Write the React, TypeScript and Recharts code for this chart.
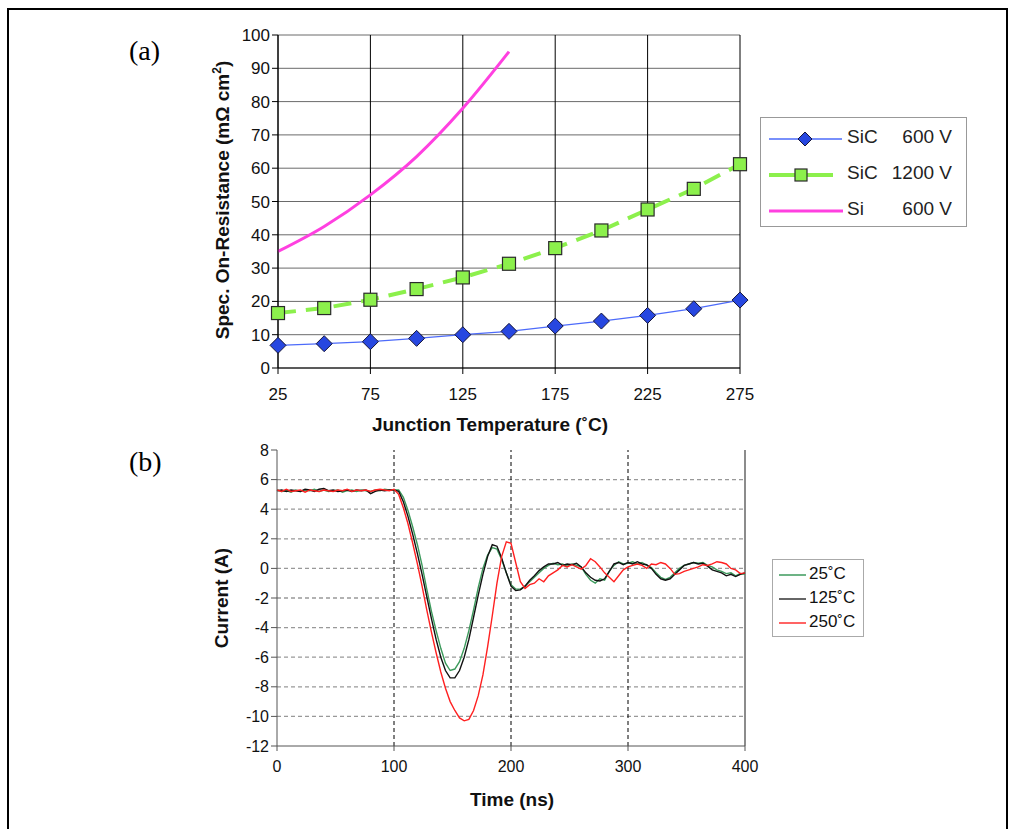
import React from 'react'
import { LineChart, Line, XAxis, YAxis, CartesianGrid, ReferenceLine } from 'recharts'

// (a) specific on-resistance vs junction temperature
const temps = [25, 50, 75, 100, 125, 150, 175, 200, 225, 250, 275]
const sic600 = [6.8, 7.3, 7.9, 8.9, 10.0, 11.0, 12.6, 14.1, 15.8, 17.8, 20.4]
const sic1200 = [16.5, 18.0, 20.5, 23.7, 27.2, 31.3, 36.0, 41.3, 47.6, 53.8, 61.2]
const si600 = [35, 42.5, 52, 63.5, 78, 95]
const tempTicks = [25, 75, 125, 175, 225, 275]
const resTicks = [0, 10, 20, 30, 40, 50, 60, 70, 80, 90, 100]

// (b) turn-off current waveforms
const times = [
  0, 4, 8, 12, 16, 20, 24, 28, 32, 36, 40, 44, 48, 52, 56, 60, 64, 68, 72, 76, 80, 84, 88, 92, 96, 100,
  104, 108, 112, 116, 120, 124, 128, 132, 136, 140, 144, 148, 152, 156, 160, 164, 168, 172, 176, 180, 184, 188, 192, 196, 200,
  204, 208, 212, 216, 220, 224, 228, 232, 236, 240, 244, 248, 252, 256, 260, 264, 268, 272, 276, 280, 284, 288, 292, 296, 300,
  304, 308, 312, 316, 320, 324, 328, 332, 336, 340, 344, 348, 352, 356, 360, 364, 368, 372, 376, 380, 384, 388, 392, 396, 400,
]
const i25 = [
  5.3, 5.2, 5.25, 5.15, 5.3, 5.2, 5.3, 5.25, 5.35, 5.2, 5.3, 5.2, 5.25, 5.3, 5.15, 5.25, 5.3, 5.2, 5.3, 5.25, 5.2, 5.3, 5.25, 5.35, 5.3, 5.3,
  5.3, 4.8, 3.9, 2.8, 1.6, 0.2, -1.4, -2.9, -4.2, -5.4, -6.4, -6.9, -6.8, -6.3, -5.4, -4.2, -2.8, -1.3, 0.0, 0.9, 1.4, 1.3, 0.6, -0.3, -1.1,
  -1.4, -1.4, -1.2, -0.9, -0.6, -0.3, 0.0, 0.2, 0.35, 0.25, 0.3, 0.15, 0.3, 0.2, 0.1, -0.4, -0.8, -1.0, -0.7, -0.8, -0.2, 0.2, 0.45, 0.3, 0.35,
  0.45, 0.3, 0.4, 0.2, 0.05, -0.3, -0.6, -0.75, -0.6, -0.3, 0.0, 0.2, 0.3, 0.4, 0.35, 0.4, 0.2, 0.1, -0.1, -0.2, -0.35, -0.3, -0.5, -0.35, -0.4,
]
const i125 = [
  5.25, 5.3, 5.2, 5.3, 5.25, 5.2, 5.35, 5.3, 5.2, 5.35, 5.4, 5.25, 5.3, 5.2, 5.25, 5.3, 5.2, 5.3, 5.25, 5.3, 5.05, 5.2, 5.3, 5.25, 5.3, 5.3,
  5.2, 4.5, 3.5, 2.3, 1.0, -0.4, -1.9, -3.4, -4.8, -6.0, -6.9, -7.4, -7.4, -6.9, -6.0, -4.8, -3.3, -1.8, -0.4, 0.8, 1.6, 1.5, 0.7, -0.3, -1.2,
  -1.5, -1.45, -1.2, -0.8, -0.5, -0.15, 0.1, 0.3, 0.3, 0.4, 0.2, 0.3, 0.25, 0.35, 0.1, -0.3, -0.6, -0.8, -0.85, -0.7, -0.2, 0.3, 0.4, 0.25, 0.4,
  0.3, 0.45, 0.3, 0.25, 0.0, -0.4, -0.7, -0.8, -0.7, -0.4, -0.1, 0.2, 0.3, 0.4, 0.3, 0.35, 0.15, -0.1, -0.2, -0.3, -0.5, -0.4, -0.55, -0.4, -0.3,
]
const i250 = [
  5.3, 5.2, 5.35, 5.2, 5.25, 5.3, 5.15, 5.3, 5.25, 5.2, 5.3, 5.25, 5.2, 5.3, 5.25, 5.35, 5.2, 5.3, 5.25, 5.3, 5.2, 5.3, 5.35, 5.3, 5.25, 5.35,
  5.0, 4.1, 3.0, 1.7, 0.3, -1.2, -2.8, -4.3, -5.7, -7.0, -8.1, -9.0, -9.6, -10.1, -10.3, -10.2, -9.6, -8.6, -7.2, -5.3, -3.2, -1.0, 0.8, 1.8, 1.7,
  0.4, -0.9, -1.35, -1.1, -1.0, -0.7, -0.9, -0.5, -0.3, -0.1, 0.2, 0.1, 0.25, 0.1, -0.05, 0.2, 0.65, 0.45, 0.1, -0.3, -0.6, -0.9, -0.5, -0.1, 0.1,
  0.2, 0.3, 0.2, 0.0, 0.3, 0.25, 0.4, 0.3, 0.0, -0.4, -0.35, -0.2, -0.1, 0.0, 0.1, 0.25, 0.2, 0.3, 0.45, 0.4, 0.3, 0.0, -0.1, -0.35, -0.3,
]
const timeTicks = [0, 100, 200, 300, 400]
const currentTicks = [-12, -10, -8, -6, -4, -2, 0, 2, 4, 6, 8]

const FONT = "'Liberation Sans', Arial, Helvetica, sans-serif"
const SERIF = "'Liberation Serif', 'Times New Roman', serif"

const resData = temps.map((t, i) => ({ t, sic600: sic600[i], sic1200: sic1200[i], si600: si600[i] }))
const curData = times.map((t, i) => ({ t, a: i25[i], b: i125[i], c: i250[i] }))

const Diamond = (props: any) => {
  const { cx, cy, index } = props
  if (cx == null || cy == null) return <g key={index} />
  const r = 8
  return (
    <polygon
      key={index}
      points={`${cx},${cy - r} ${cx + r},${cy} ${cx},${cy + r} ${cx - r},${cy}`}
      fill="#2747e0"
      stroke="#15153a"
      strokeWidth={1}
    />
  )
}

const Square = (props: any) => {
  const { cx, cy, index } = props
  if (cx == null || cy == null) return <g key={index} />
  const s = 13
  return <rect key={index} x={cx - s / 2} y={cy - s / 2} width={s} height={s} fill="#8cf04c" stroke="#2a2a2a" strokeWidth={1.2} />
}

const topTick = { fill: '#111', fontSize: 17, fontFamily: FONT }
const botTick = { fill: '#111', fontSize: 16, fontFamily: FONT }

const title: React.CSSProperties = {
  position: 'absolute',
  fontFamily: FONT,
  fontWeight: 'bold',
  fontSize: 19,
  color: '#111',
  whiteSpace: 'nowrap',
}

function TopLegend() {
  const rows = [
    { name: 'SiC', volt: '600 V', kind: 'diamond' },
    { name: 'SiC', volt: '1200 V', kind: 'square' },
    { name: 'Si', volt: '600 V', kind: 'line' },
  ]
  return (
    <div
      style={{
        position: 'absolute',
        left: 760,
        top: 117,
        width: 205,
        height: 108,
        border: '1px solid #999',
        fontFamily: FONT,
        fontSize: 19,
        color: '#222',
      }}
    >
      {rows.map((r, i) => (
        <div key={i} style={{ position: 'absolute', left: 0, top: 8 + i * 36, height: 24, width: 205 }}>
          <svg width={80} height={24} style={{ position: 'absolute', left: 8, top: 1 }}>
            {r.kind === 'diamond' && (
              <>
                <line x1={0} y1={12} x2={73} y2={12} stroke="#4d6bfa" strokeWidth={1.5} />
                <polygon points="36,5 43,12 36,19 29,12" fill="#2747e0" stroke="#15153a" strokeWidth={1} />
              </>
            )}
            {r.kind === 'square' && (
              <>
                <line x1={0} y1={12} x2={64} y2={12} stroke="#8cf04c" strokeWidth={4} />
                <rect x={26} y={6} width={12} height={12} fill="#8cf04c" stroke="#2a2a2a" strokeWidth={1.2} />
              </>
            )}
            {r.kind === 'line' && <line x1={0} y1={12} x2={74} y2={12} stroke="#ff40e0" strokeWidth={3} />}
          </svg>
          <span style={{ position: 'absolute', left: 86, top: 0 }}>{r.name}</span>
          <span style={{ position: 'absolute', right: 14, top: 0 }}>{r.volt}</span>
        </div>
      ))}
    </div>
  )
}

function BottomLegend() {
  const rows = [
    { label: '25˚C', color: '#3c9a5c' },
    { label: '125˚C', color: '#333' },
    { label: '250˚C', color: '#ff3030' },
  ]
  return (
    <div
      style={{
        position: 'absolute',
        left: 772,
        top: 559,
        width: 90,
        height: 76,
        border: '1px solid #aaa',
        fontFamily: FONT,
        fontSize: 17,
        color: '#111',
      }}
    >
      {rows.map((r, i) => (
        <div key={i} style={{ position: 'absolute', left: 0, top: 4 + i * 24, height: 20, width: 90 }}>
          <svg width={30} height={20} style={{ position: 'absolute', left: 6, top: 1 }}>
            <line x1={0} y1={10} x2={27} y2={10} stroke={r.color} strokeWidth={1.5} />
          </svg>
          <span style={{ position: 'absolute', left: 36, top: 0 }}>{r.label}</span>
        </div>
      ))}
    </div>
  )
}

export default function App() {
  return (
    <div style={{ position: 'absolute', left: 0, top: 0, width: 1017, height: 829, overflow: 'hidden', background: '#fff' }}>
      <div style={{ position: 'absolute', left: 7, top: 8, width: 997, height: 840, border: '2px solid #000' }} />

      <div style={{ position: 'absolute', left: 129, top: 35, fontFamily: SERIF, fontSize: 28 }}>(a)</div>
      <div style={{ position: 'absolute', left: 129, top: 446, fontFamily: SERIF, fontSize: 28 }}>(b)</div>

      {/* chart (a) */}
      <div style={{ position: 'absolute', left: 0, top: 0 }}>
        <LineChart width={1017} height={440} data={resData} margin={{ top: 35, right: 277, bottom: 42, left: 218 }}>
          <CartesianGrid vertical={false} stroke="#6a6a6a" strokeWidth={1} />
          <CartesianGrid horizontal={false} stroke="#000" strokeWidth={1} />
          <XAxis
            dataKey="t"
            type="number"
            domain={[25, 275]}
            ticks={tempTicks}
            height={30}
            stroke="#000"
            tickSize={6}
            tick={topTick}
            tickMargin={14}
          />
          <YAxis
            type="number"
            domain={[0, 100]}
            ticks={resTicks}
            width={60}
            stroke="#000"
            tickSize={6}
            tick={topTick}
            interval={0}
          />
          <Line
            dataKey="si600"
            type="monotone"
            stroke="#ff40e0"
            strokeWidth={3}
            dot={false}
            isAnimationActive={false}
          />
          <Line
            dataKey="sic1200"
            type="linear"
            stroke="#8cf04c"
            strokeWidth={4}
            strokeDasharray="18 10"
            dot={Square}
            isAnimationActive={false}
          />
          <Line
            dataKey="sic600"
            type="linear"
            stroke="#4d6bfa"
            strokeWidth={1.3}
            dot={Diamond}
            isAnimationActive={false}
          />
        </LineChart>
      </div>
      <div style={{ ...title, left: 222, top: 200, transform: 'translate(-50%, -50%) rotate(-90deg)' }}>
        Spec. On-Resistance (mΩ cm<sup style={{ fontSize: 12 }}>2</sup>)
      </div>
      <div style={{ ...title, left: 490, top: 425, transform: 'translate(-50%, -50%)' }}>Junction Temperature (˚C)</div>
      <TopLegend />

      {/* chart (b) */}
      <div style={{ position: 'absolute', left: 0, top: 440 }}>
        <LineChart width={1017} height={389} data={curData} margin={{ top: 10, right: 272, bottom: 53, left: 217 }}>
          {currentTicks
            .filter((v) => v !== 8 && v !== -12)
            .map((v) => (
              <ReferenceLine key={'h' + v} y={v} stroke="#999" strokeDasharray="4 3" strokeWidth={1.3} />
            ))}
          {timeTicks
            .filter((v) => v !== 0 && v !== 400)
            .map((v) => (
              <ReferenceLine key={'v' + v} x={v} stroke="#000" strokeDasharray="4 3" strokeWidth={1} />
            ))}
          <ReferenceLine x={400} stroke="#666" strokeWidth={1.5} />
          <XAxis
            dataKey="t"
            type="number"
            domain={[0, 400]}
            ticks={timeTicks}
            height={30}
            stroke="#555"
            tickSize={5}
            tick={botTick}
            tickMargin={10}
          />
          <YAxis
            type="number"
            domain={[-12, 8]}
            ticks={currentTicks}
            width={60}
            stroke="#555"
            tickSize={6}
            tick={botTick}
            interval={0}
          />
          <Line dataKey="a" type="linear" stroke="#3c9a5c" strokeWidth={1.4} dot={false} isAnimationActive={false} />
          <Line dataKey="b" type="linear" stroke="#111" strokeWidth={1.4} dot={false} isAnimationActive={false} />
          <Line dataKey="c" type="linear" stroke="#ff2020" strokeWidth={1.4} dot={false} isAnimationActive={false} />
        </LineChart>
      </div>
      <div style={{ ...title, left: 222, top: 598, transform: 'translate(-50%, -50%) rotate(-90deg)' }}>Current (A)</div>
      <div style={{ ...title, left: 512, top: 800, transform: 'translate(-50%, -50%)' }}>Time (ns)</div>
      <BottomLegend />
    </div>
  )
}
